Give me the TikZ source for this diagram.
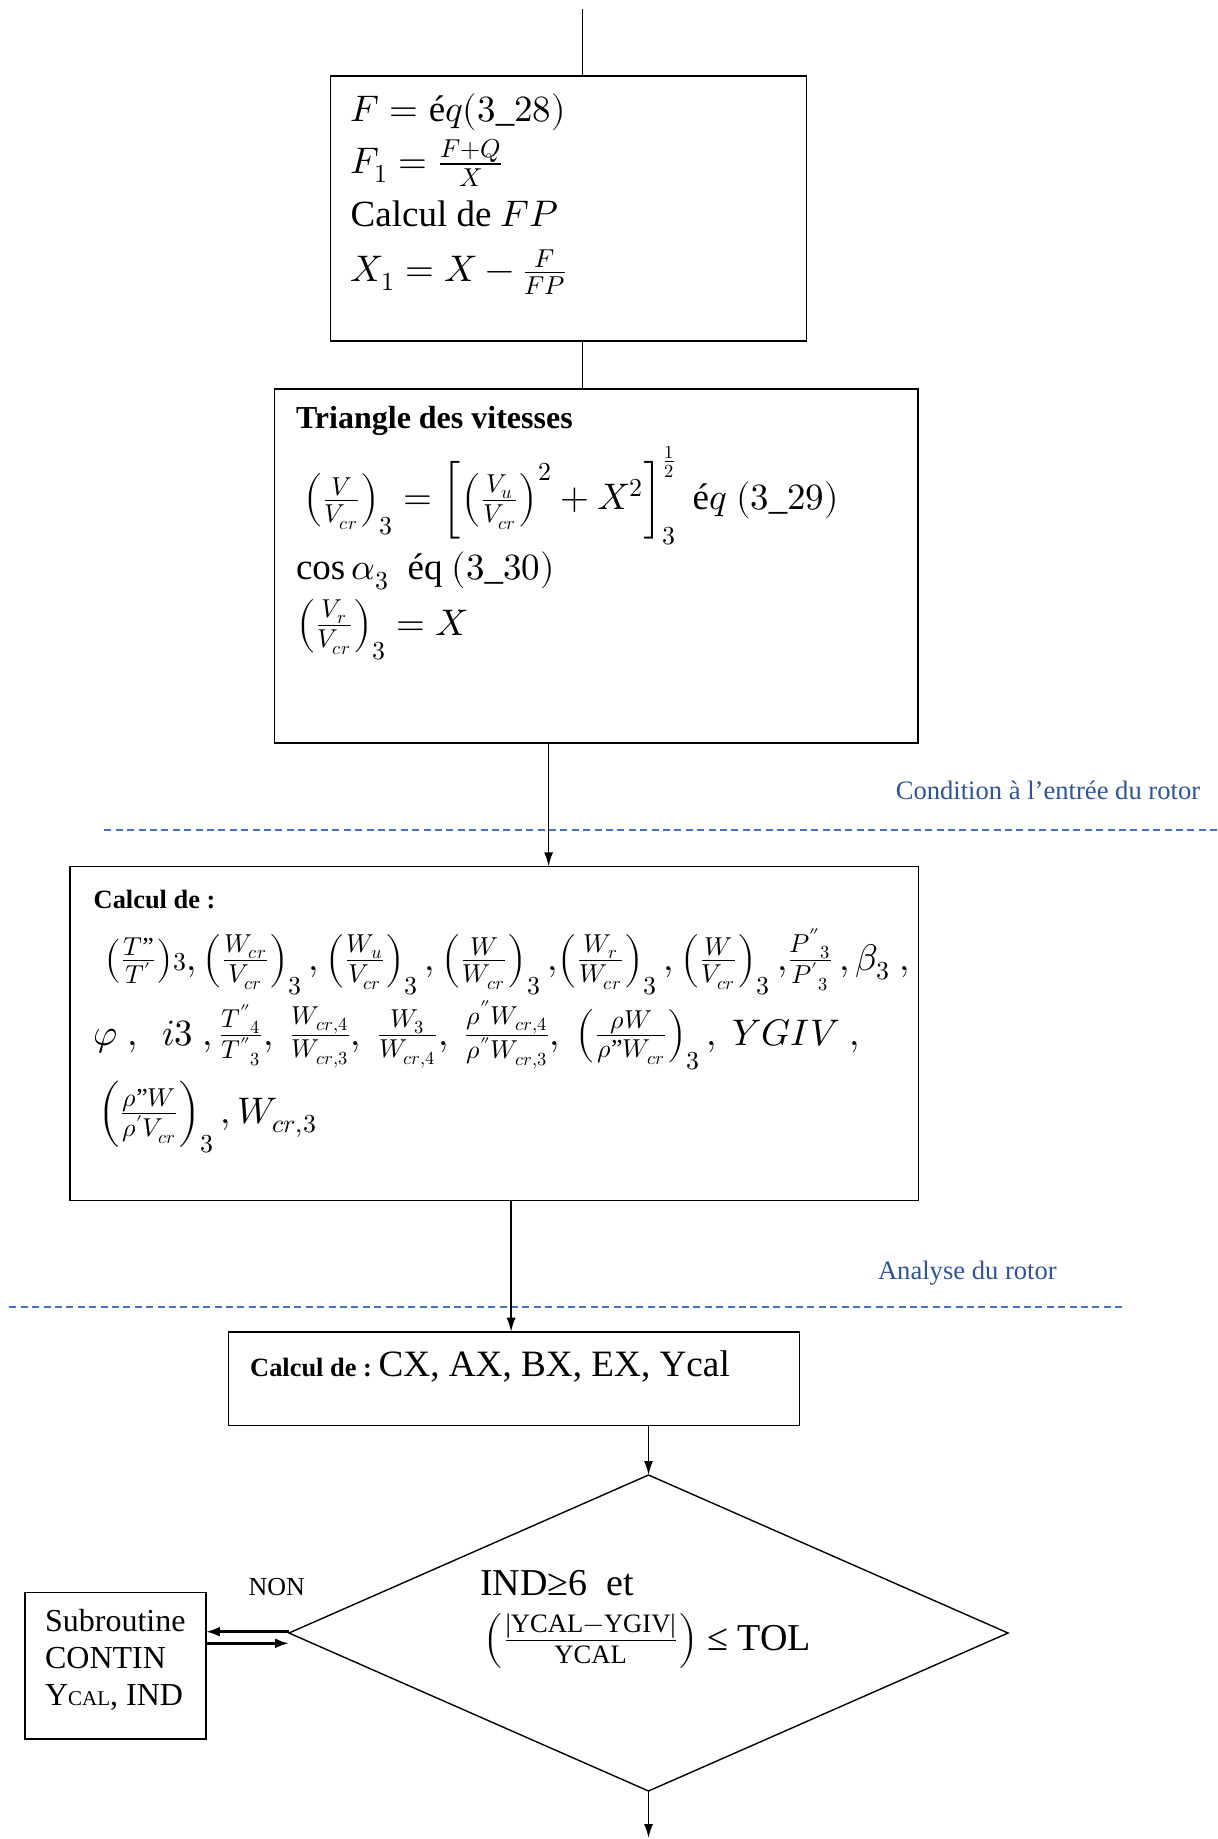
\documentclass[tikz,border=0pt]{standalone}
\usepackage{amsmath}
\usepackage{fontspec}
\setmainfont{Liberation Serif}
\usepackage{unicode-math}
\usetikzlibrary{shapes.geometric,arrows.meta}
\definecolor{lblblue}{HTML}{2F5496}
\definecolor{sepblue}{HTML}{4472C4}
\newcommand{\dq}{\text{"}}
\begin{document}
\begin{tikzpicture}[x=0.5pt,y=-0.5pt,
  box/.style={draw, line width=0.8pt, inner sep=0pt, outer sep=0pt},
  dia/.style={draw, diamond, line width=0.7pt, inner sep=0pt, outer sep=0pt},
  txt/.style={anchor=base west, inner sep=0pt, outer sep=0pt},
  eqfont/.style={font=\fontsize{18.5}{22}\selectfont},
  titlefont/.style={font=\fontsize{13.2}{16}\selectfont\bfseries},
  conn/.style={line width=0.8pt},
  arr/.style={line width=0.8pt, -{Latex[length=7pt,width=4.5pt]}},
  arrL/.style={line width=1.3pt, -{Latex[length=7pt,width=5pt]}},
  sep/.style={draw=sepblue, line width=1pt, dash pattern=on 3.5pt off 2.2pt},
  lbl/.style={txt, text=lblblue, font=\fontsize{13.3}{16}\selectfont}]
\useasboundingbox (0,0) rectangle (1218,1839);

% boxes
\node[box, minimum width=237.95pt, minimum height=132.5pt] (b1) at (568.55,208.5) {};
\node[box, minimum width=321.8pt, minimum height=177pt] (b2) at (596.1,566.2) {};
\node[box, minimum width=424.2pt, minimum height=167pt] (b3) at (494.4,1033.4) {};
\node[box, minimum width=285.45pt, minimum height=46.9pt] (b4) at (514.05,1378.6) {};
\node[dia, minimum width=359.5pt, minimum height=158pt] (d) at (648.5,1633) {};
\node[box, minimum width=90.5pt, minimum height=73.2pt] (s) at (115.4,1665.5) {};

% box 1 text
\node[txt, eqfont] (t1a) at (350.7,121.7) {$F = \text{é}q(3\_28)$};
\node[txt, eqfont] (t1b) at (350.7,173.3) {$F_1 = \frac{F+Q}{X}$};
\node[txt, eqfont] (t1c) at (350.7,226.7) {Calcul de $FP$};
\node[txt, eqfont] (t1d) at (350.7,281.7) {$X_1 = X - \frac{F}{FP}$};

% box 2 text
\node[txt, font=\fontsize{16}{19}\selectfont\bfseries] (t2a) at (296,428.3) {Triangle des vitesses};
\node[txt, eqfont] (t2b) at (303,510) {$\left(\frac{V}{V_{cr}}\right)_3 = \left[\left(\frac{V_u}{V_{cr}}\right)^2 + X^2\right]_3^{\frac{1}{2}}\ \text{é}q\ (3\_29)$};
\node[txt, eqfont] (t2c) at (296,580) {$\cos\alpha_3\ \ \text{éq}\ (3\_30)$};
\node[txt, eqfont] (t2d) at (296,635) {$\left(\frac{V_r}{V_{cr}}\right)_3 = X$};

% box 3 text
\node[txt, titlefont] (t3a) at (93.7,908.3) {Calcul de :};
\node[txt, eqfont] (t3b) at (104,970) {$\left(\frac{T\dq}{T'}\right)\!{\scriptstyle 3},\left(\frac{W_{cr}}{V_{cr}}\right)_3,\left(\frac{W_u}{V_{cr}}\right)_3,\left(\frac{W}{W_{cr}}\right)_3,\!\left(\frac{W_r}{W_{cr}}\right)_3,\left(\frac{W}{V_{cr}}\right)_3,\!\frac{{P''}_3}{{P'}_3}\,,\beta_3\ ,$};
\node[txt, eqfont] (t3c) at (93.7,1045) {$\varphi\ ,\ \ i3\ ,\frac{{T''}_4}{{T''}_3},\ \frac{W_{cr,4}}{W_{cr,3}},\ \frac{W_3}{W_{cr,4}},\ \frac{\rho''W_{cr,4}}{\rho''W_{cr,3}},\ \left(\frac{\rho W}{\rho\dq W_{cr}}\right)_3,\ YGIV\ ,$};
\node[txt, eqfont] (t3d) at (98,1123) {$\left(\frac{\rho\dq W}{\rho' V_{cr}}\right)_3, W_{cr,3}$};

% box 4 text
\node[txt] (t4) at (250.2,1376.7) {{\fontsize{13.2}{16}\selectfont\bfseries Calcul de :} {\fontsize{18.6}{22}\selectfont CX, AX, BX, EX, Ycal}};

% diamond text
\node[txt, font=\fontsize{19}{23}\selectfont] (td1) at (480.2,1595) {IND≥6\ \ et};
\node[txt, font=\fontsize{19}{23}\selectfont] (td2) at (483.3,1650) {$\left(\frac{\text{|YCAL}-\text{YGIV|}}{\text{YCAL}}\right)$ ≤ TOL};

% subroutine text
\node[txt, font=\fontsize{16}{19}\selectfont] (ts1) at (45.1,1631.7) {Subroutine};
\node[txt, font=\fontsize{16}{19}\selectfont] (ts2) at (45.1,1668.3) {CONTIN};
\node[txt, font=\fontsize{16}{19}\selectfont] (ts3) at (45.1,1705) {Y{\fontsize{10.5}{12}\selectfont CAL}, IND};

% labels
\node[lbl] (lab1) at (895.8,799.3) {Condition à l’entrée du rotor};
\node[lbl] (lab2) at (878,1279.3) {Analyse du rotor};
\node[txt, font=\fontsize{13}{16}\selectfont] (non) at (248.6,1595) {NON};

% separators
\coordinate (s1a) at (104.4,830);
\coordinate (s1b) at (1218,830);
\draw[sep] (s1a) -- (s1b);
\coordinate (s2a) at (9.3,1306.7);
\coordinate (s2b) at (1125,1306.7);
\draw[sep] (s2a) -- (s2b);

% connectors
\coordinate (top) at (582.6,9.4);
\draw[conn] (top) -- (top |- b1.north);
\draw[conn] (top |- b1.south) -- (top |- b2.north);
\coordinate (x23) at (548.6,0);
\draw[arr] (x23 |- b2.south) -- (x23 |- b3.north);
\coordinate (x34) at (511.1,0);
\draw[arr] (x34 |- b3.south) -- (x34 |- b4.north);
\draw[arr] (d.north |- b4.south) -- (d.north);
\coordinate (endpt) at (648.5,1838);
\draw[arr] (d.south) -- (d.south |- endpt);
\draw[arrL] ([yshift=0.65pt]d.west) -- ([yshift=0.65pt]d.west -| s.east);
\draw[arrL] ([yshift=-5.15pt]d.west -| s.east) -- ([yshift=-5.15pt]d.west);
\end{tikzpicture}
\end{document}
